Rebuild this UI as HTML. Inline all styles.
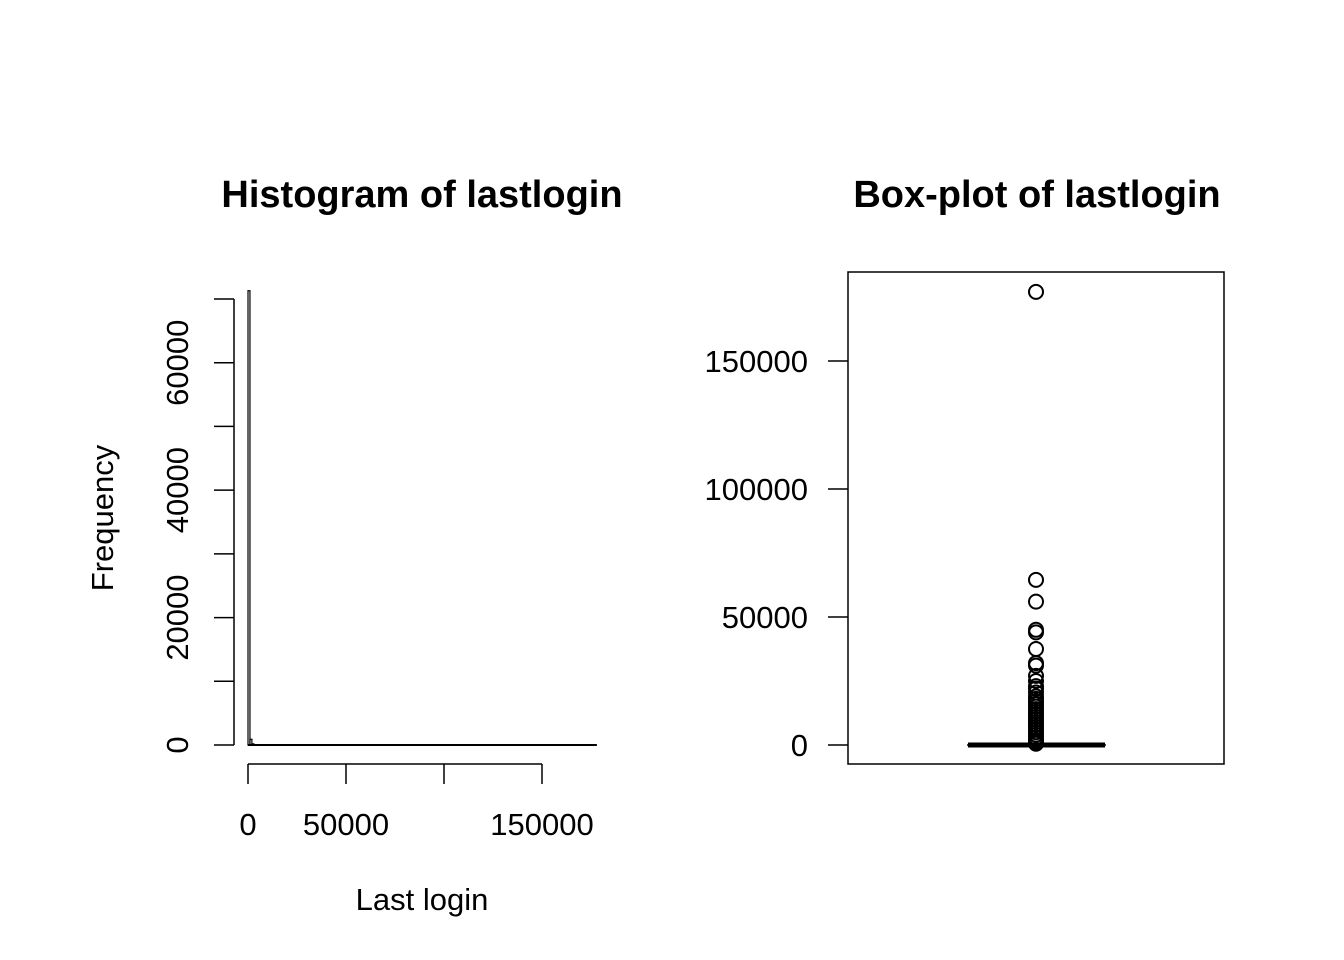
<!DOCTYPE html>
<html><head><meta charset="utf-8"><style>
html,body{margin:0;padding:0;background:#fff;}
svg{display:block;font-family:"Liberation Sans",Arial,sans-serif;}
</style></head><body>
<svg id="chart" width="1344" height="960" viewBox="0 0 1344 960">
<text x="422" y="207" font-size="38" font-weight="bold" text-anchor="middle">Histogram of lastlogin</text>
<text x="1037" y="207" font-size="38" font-weight="bold" text-anchor="middle">Box-plot of lastlogin</text>
<text x="422" y="910" font-size="31" text-anchor="middle">Last login</text>
<text transform="translate(113,518) rotate(-90)" font-size="31" text-anchor="middle">Frequency</text>
<g id="hist"></g>
<g id="box"></g>
</svg>
<script>
// Histogram data (bin width 1000)
const histBinWidth = 1000;
const histCounts = [71300, 900, 180, 60, 25, 12, 6, 4, 3, 2];
const histXTicks = [0, 50000, 100000, 150000];
const histXLabels = ["0", "50000", "", "150000"];
const histYTicks = [0, 10000, 20000, 30000, 40000, 50000, 60000, 70000];
const histYLabels = ["0", "", "20000", "", "40000", "", "60000", ""];
const histXMax = 178000;
// Boxplot data
const boxQuartiles = [0, 5, 20, 120, 300]; // min, q1, median, q3, upper whisker
const boxOutliers = [177000, 64500, 56000, 45000, 44000, 37500, 32000, 31000, 27000, 25000, 23000, 22000, 20500, 19000, 18000, 17000, 16000, 15000, 14000, 13000, 12000, 11000, 10000, 9000, 8000, 7000, 6000, 5000, 4000, 3000, 2000, 1500, 1000, 700, 500];
const boxYTicks = [0, 50000, 100000, 150000];

const NS = "http://www.w3.org/2000/svg";
function mk(parent, tag, attrs) {
  const e = document.createElementNS(NS, tag);
  for (const k in attrs) e.setAttribute(k, attrs[k]);
  parent.appendChild(e);
  return e;
}
const hx = v => 248 + v * (98 / 50000);
const hy = v => 745 - v * (446 / 70000);
const hist = document.getElementById('hist');
histCounts.forEach((c, i) => {
  const r = mk(hist, 'rect', {x: hx(i*histBinWidth), y: hy(c), width: Math.max(hx((i+1)*histBinWidth)-hx(i*histBinWidth), 0.5), height: hy(0)-hy(c), fill: 'none', stroke: '#000', 'stroke-width': 1.2});
  
  
});
const base = mk(hist, 'line', {x1: hx(0), x2: hx(histXMax), y1: hy(0), y2: hy(0), stroke: '#000', 'stroke-width': 2});


const xa = mk(hist, 'line', {x1: hx(histXTicks[0]), x2: hx(histXTicks[histXTicks.length-1]), y1: 764, y2: 764, stroke: '#000', 'stroke-width': 1.5});


histXTicks.forEach((t, i) => {
  mk(hist, 'line', {x1: hx(t), x2: hx(t), y1: 764, y2: 784, stroke: '#000', 'stroke-width': 1.5});
  if (histXLabels[i]) {
    const tx = mk(hist, 'text', {x: hx(t), y: 835, 'font-size': 31, 'text-anchor': 'middle'});
    tx.textContent = histXLabels[i];
    
    
  }
});
const ya = mk(hist, 'line', {x1: 234, x2: 234, y1: hy(histYTicks[0]), y2: hy(histYTicks[histYTicks.length-1]), stroke: '#000', 'stroke-width': 1.5});


histYTicks.forEach((t, i) => {
  mk(hist, 'line', {x1: 214, x2: 234, y1: hy(t), y2: hy(t), stroke: '#000', 'stroke-width': 1.5});
  if (histYLabels[i]) {
    const tx = mk(hist, 'text', {transform: `translate(188,${hy(t)}) rotate(-90)`, 'font-size': 31, 'text-anchor': 'middle'});
    tx.textContent = histYLabels[i];
    
    
  }
});
const by = v => 745 - v * (128 / 50000);
const box = document.getElementById('box');
const frame = mk(box, 'rect', {x: 848, y: 272, width: 376, height: 492, fill: 'none', stroke: '#000', 'stroke-width': 1.5});


boxYTicks.forEach(t => {
  mk(box, 'line', {x1: 828, x2: 848, y1: by(t), y2: by(t), stroke: '#000', 'stroke-width': 1.5});
  const tx = mk(box, 'text', {x: 808, y: by(t) + 11, 'font-size': 31, 'text-anchor': 'end'});
  tx.textContent = String(t);
  
  
});
const bx = mk(box, 'rect', {x: 968, y: by(boxQuartiles[3]), width: 137, height: Math.max(by(boxQuartiles[1]) - by(boxQuartiles[3]), 0.5), fill: 'none', stroke: '#000', 'stroke-width': 1.5});


const med = mk(box, 'line', {x1: 968, x2: 1105, y1: by(boxQuartiles[2]), y2: by(boxQuartiles[2]), stroke: '#000', 'stroke-width': 5});


const wh = mk(box, 'line', {x1: 1036, x2: 1036, y1: by(boxQuartiles[0]), y2: by(boxQuartiles[4]), stroke: '#000', 'stroke-width': 1.5});


boxOutliers.forEach(v => {
  const c = mk(box, 'circle', {cx: 1036, cy: by(v), r: 7, fill: 'none', stroke: '#000', 'stroke-width': 2});
  
  
});
</script>
</body></html>
